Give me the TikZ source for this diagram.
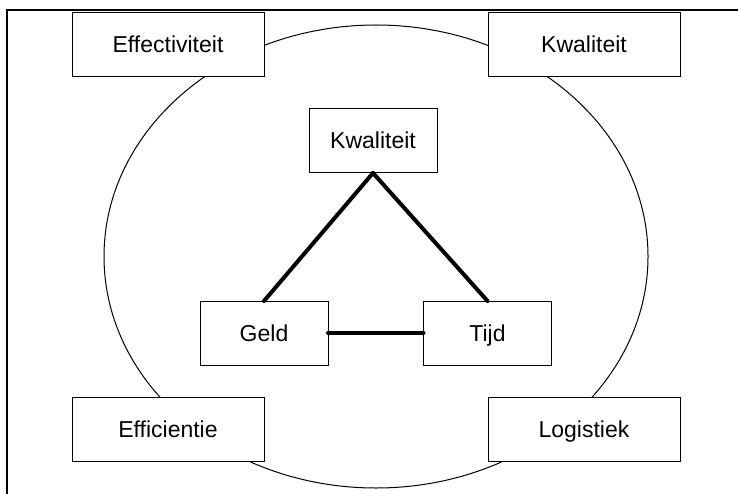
\documentclass[tikz,border=0pt]{standalone}
\usepackage{fontspec}
\setmainfont{Liberation Sans}
\begin{document}
\begin{tikzpicture}[x=1pt,y=-1pt,
  box/.style={draw=black,fill=white,line width=1pt,inner sep=0pt,outer sep=0pt,
    minimum height=64pt,text height=16pt,text depth=0pt,
    font=\fontsize{23}{27}\selectfont},
  wide/.style={box,minimum width=192pt},
  narrow/.style={box,minimum width=128pt},
  link/.style={line width=4pt,line cap=round}]
  \useasboundingbox (0,0) rectangle (738,494);
  % frame edges
  \draw[line width=2pt] (7,494) -- (7,10) -- (738,10);
  % surrounding ellipse
  \draw[line width=1pt] (376,256.5) ellipse [x radius=272, y radius=231.5];
  % corner boxes
  \node[wide] (eff) at (168,45) {Effectiviteit};
  \node[wide] (kwo) at (584,45) {Kwaliteit};
  \node[wide] (efc) at (168,429) {Efficientie};
  \node[wide] (log) at (584,429) {Logistiek};
  % triangle
  \node[narrow] (kw) at (373,141) {Kwaliteit};
  \node[narrow] (geld) at (264,333) {Geld};
  \node[narrow] (tijd) at (487.5,333) {Tijd};
  \draw[link] (kw.south) -- (geld.north);
  \draw[link] (kw.south) -- (tijd.north);
  \draw[link] (geld.east) -- (tijd.west);
\end{tikzpicture}
\end{document}
